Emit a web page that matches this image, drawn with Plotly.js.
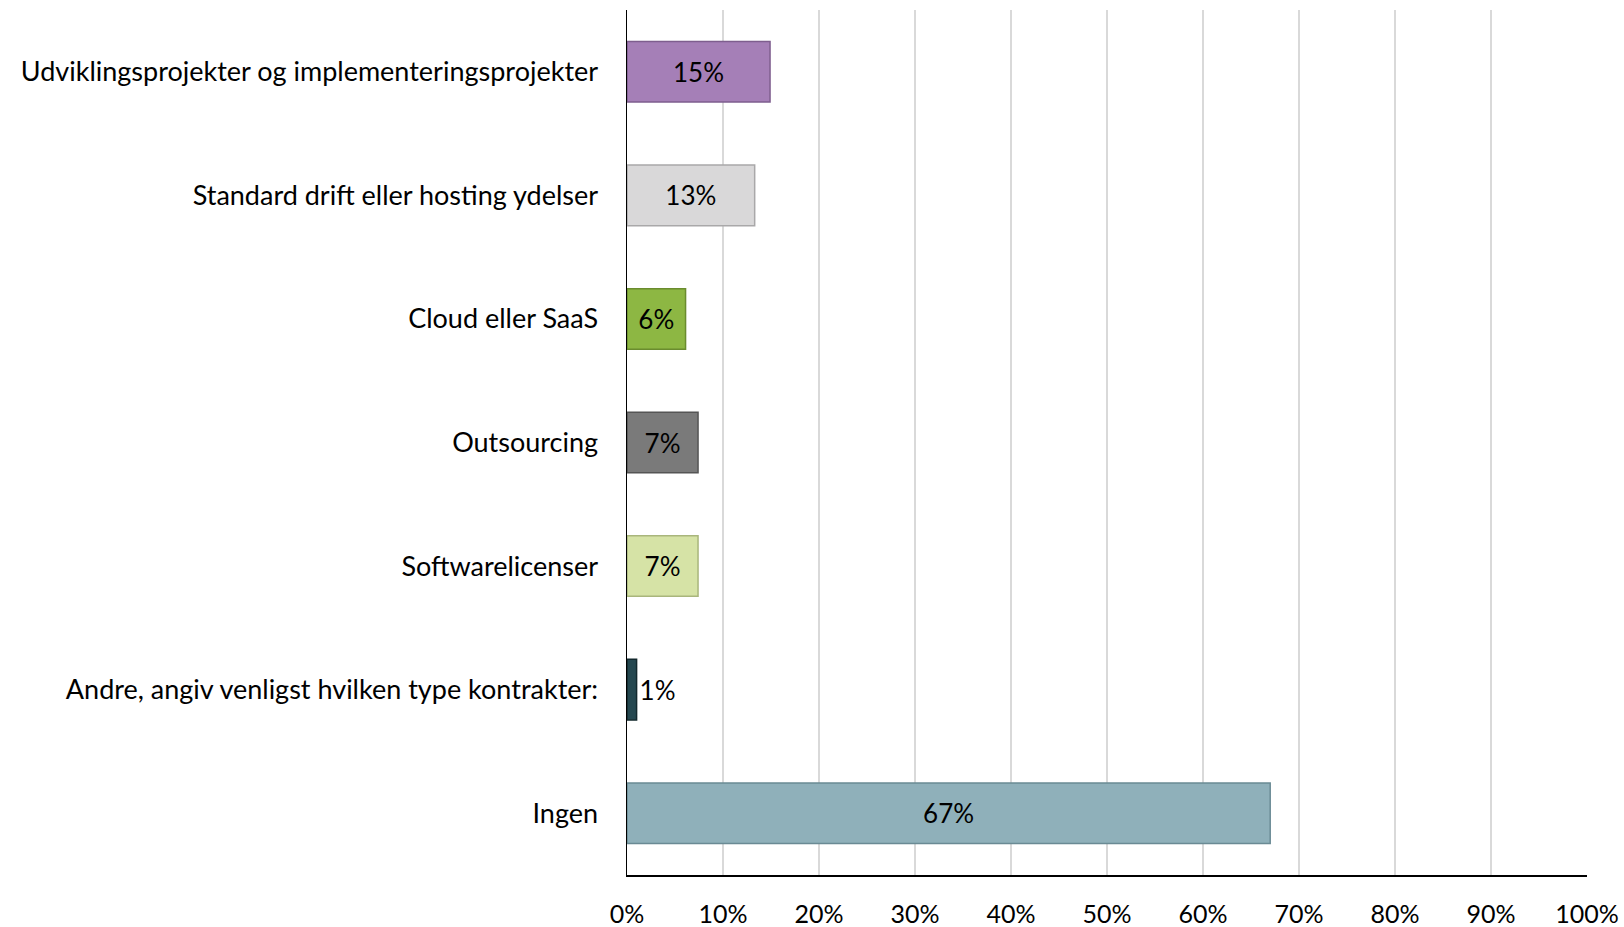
<!DOCTYPE html>
<html>
<head>
<meta charset="utf-8">
<script src="https://cdn.plot.ly/plotly-3.0.1.min.js"></script>
<style>html,body{margin:0;padding:0;background:#fff;}#chart{width:1624px;height:927px;}</style>
</head>
<body>
<div id="chart"></div>
<script>
const categories = [
  "Udviklingsprojekter og implementeringsprojekter",
  "Standard drift eller hosting ydelser",
  "Cloud eller SaaS",
  "Outsourcing",
  "Softwarelicenser",
  "Andre, angiv venligst hvilken type kontrakter:",
  "Ingen"
];
const values = [14.9, 13.3, 6.1, 7.4, 7.4, 1.0, 67.0];
const labels = ["15%", "13%", "6%", "7%", "7%", "1%", "67%"];
const barColors = ["#A57FB7", "#D9D8D9", "#8DB743", "#7A7A7A", "#D6E3A6", "#24474F", "#8FB0BA"];
const edgeColors = ["#7E5E8E", "#A9A8A9", "#6A8C2E", "#555555", "#A9B67C", "#12282D", "#6A8A94"];
const xTickVals = [0,10,20,30,40,50,60,70,80,90,100];
const xTickText = ["0%","10%","20%","30%","40%","50%","60%","70%","80%","90%","100%"];

const font = "Lato, 'Open Sans', 'Noto Sans', sans-serif";

Plotly.newPlot("chart", [{
  type: "bar",
  orientation: "h",
  y: categories,
  x: values,
  text: labels,
  textposition: values.map(v => v < 3 ? "outside" : "inside"),
  insidetextanchor: "middle",
  constraintext: "none",
  cliponaxis: false,
  textfont: {family: font, size: 26, color: "#000"},
  marker: {color: barColors, line: {color: edgeColors, width: 1.5}},
  width: 0.49,
  hoverinfo: "none"
}], {
  width: 1624, height: 927,
  margin: {l: 627, r: 37, t: 10, b: 52},
  paper_bgcolor: "#fff", plot_bgcolor: "#fff",
  showlegend: false,
  font: {family: font, size: 24, color: "#000"},
  xaxis: {
    range: [0, 100],
    tickvals: xTickVals, ticktext: xTickText,
    showgrid: true, gridcolor: "#D9D9D9", gridwidth: 1.3,
    zeroline: false,
    showline: true, linecolor: "#000", linewidth: 1.5,
    ticks: "", ticklabelstandoff: 16,
    tickfont: {family: font, size: 25, color: "#000"},
    fixedrange: true
  },
  yaxis: {
    type: "category",
    categoryorder: "array", categoryarray: categories,
    autorange: "reversed",
    showgrid: false, zeroline: false,
    showline: true, linecolor: "#000", linewidth: 1.5,
    ticks: "", ticklabelstandoff: 22,
    tickfont: {family: font, size: 27, color: "#000"},
    fixedrange: true
  }
}, {staticPlot: true, displayModeBar: false});
</script>
</body>
</html>
